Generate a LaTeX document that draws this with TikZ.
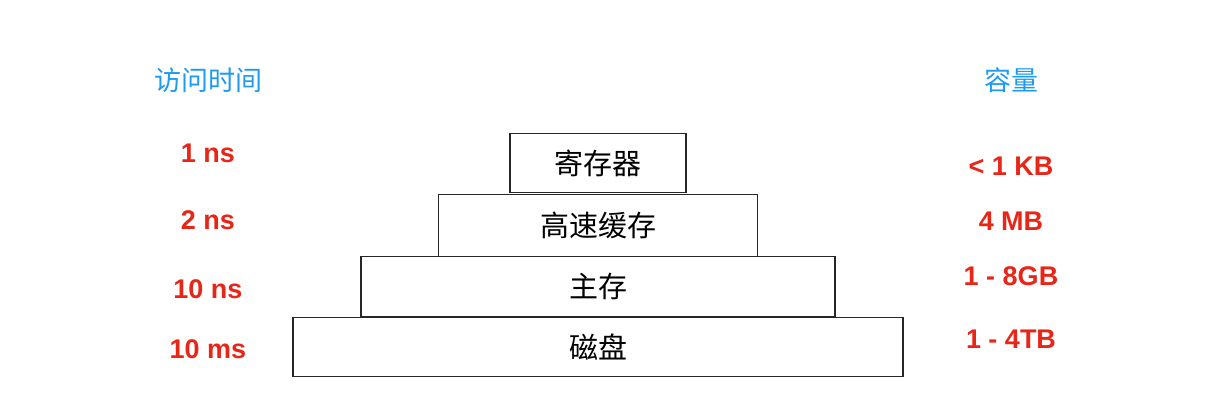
\documentclass[tikz,border=0pt]{standalone}
\usepackage{fontspec}
\setmainfont{Liberation Sans}
\newfontfamily\cjk{Noto Sans CJK SC}
\usepackage{xcolor}
\usetikzlibrary{positioning}
\definecolor{hdblue}{RGB}{30,155,240}
\definecolor{valred}{RGB}{232,38,24}

\begin{document}
\begin{tikzpicture}[x=1pt, y=-1pt,
		layer/.style={draw=black!85, line width=1.4pt, inner sep=0pt, minimum height=60pt, font=\cjk\fontsize{29}{34}\selectfont},
		header/.style={text=hdblue, font=\cjk\fontsize{27}{32}\selectfont},
		val/.style={text=valred, font=\bfseries\fontsize{27}{31}\selectfont}]
		\useasboundingbox (0,0) rectangle (1205,400);

		% 存储层次
		\node[layer, minimum width=176pt, minimum height=59pt] (reg) at (598,163) {寄存器};
		\node[layer, minimum width=319pt, minimum height=62pt] (cache) at (598,225.5) {高速缓存};
		\node[layer, minimum width=474pt] (mem) at (598,286.5) {主存};
		\node[layer, minimum width=610pt, minimum height=59pt] (disk) at (598,347) {磁盘};

		% 访问时间
		\node[header] (time) at (208,80) {访问时间};
		\node[val] (t1) at (208,153) {1 ns};
		\node[val] (t2) at (208,220.5) {2 ns};
		\node[val] (t3) at (208,289) {10 ns};
		\node[val] (t4) at (208,349) {10 ms};

		% 容量
		\node[header] (size) at (1011,80) {容量};
		\node[val] (s1) at (1011,166.5) {< 1 KB};
		\node[val] (s2) at (1011,221.5) {4 MB};
		\node[val] (s3) at (1011,276) {1 - 8GB};
		\node[val] (s4) at (1011,339.5) {1 - 4TB};
	\end{tikzpicture}
\end{document}
